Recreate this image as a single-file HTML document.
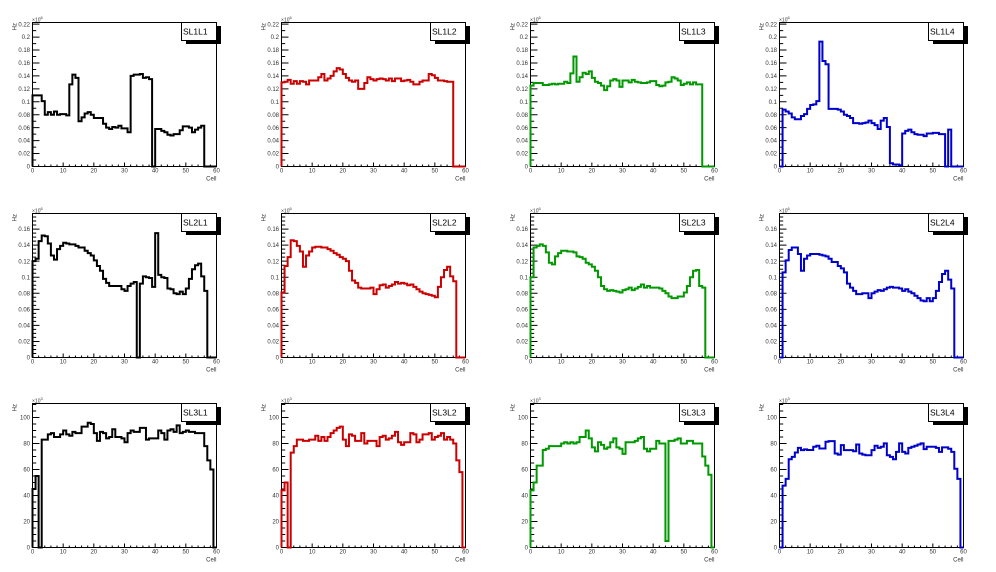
<!DOCTYPE html>
<html><head><meta charset="utf-8">
<style>
html,body{margin:0;padding:0;background:#fff;width:996px;height:572px;overflow:hidden}
svg{display:block}
.t{font-family:"Liberation Sans",sans-serif;font-size:6px;fill:#333}
.e{text-anchor:end}.m{text-anchor:middle}
.s{font-family:"Liberation Sans",sans-serif;font-size:5px;fill:#333}
.ti{font-family:"Liberation Sans",sans-serif;font-size:8.5px;fill:#000}
.h{fill:none;stroke-width:2;stroke-linejoin:miter}
.k{fill:none;stroke:#000;stroke-width:1}
</style></head><body>
<svg width="996" height="572" viewBox="0 0 996 572" xmlns="http://www.w3.org/2000/svg">
<defs>
<g id="fx">
<rect x="32.5" y="22.5" width="184" height="144" fill="none" stroke="#000" stroke-width="1"/>
<path class="k" vector-effect="non-scaling-stroke" transform="translate(32.5,166.5) scale(3.06667,1)" d="M10,0v-4M20,0v-4M30,0v-4M40,0v-4M50,0v-4M2,0v-2M4,0v-2M6,0v-2M8,0v-2M12,0v-2M14,0v-2M16,0v-2M18,0v-2M22,0v-2M24,0v-2M26,0v-2M28,0v-2M32,0v-2M34,0v-2M36,0v-2M38,0v-2M42,0v-2M44,0v-2M46,0v-2M48,0v-2M52,0v-2M54,0v-2M56,0v-2M58,0v-2"/>
</g>
<path id="ya" class="k" vector-effect="non-scaling-stroke" transform="translate(32.5,166.5) scale(1,-0.6469)" d="M0,20h7M0,40h7M0,60h7M0,80h7M0,100h7M0,120h7M0,140h7M0,160h7M0,180h7M0,200h7M0,220h7M0,10h3.7M0,30h3.7M0,50h3.7M0,70h3.7M0,90h3.7M0,110h3.7M0,130h3.7M0,150h3.7M0,170h3.7M0,190h3.7M0,210h3.7"/>
<path id="yb" class="k" vector-effect="non-scaling-stroke" transform="translate(32.5,166.5) scale(1,-0.8027)" d="M0,20h7M0,40h7M0,60h7M0,80h7M0,100h7M0,120h7M0,140h7M0,160h7M0,5h3.7M0,10h3.7M0,15h3.7M0,25h3.7M0,30h3.7M0,35h3.7M0,45h3.7M0,50h3.7M0,55h3.7M0,65h3.7M0,70h3.7M0,75h3.7M0,85h3.7M0,90h3.7M0,95h3.7M0,105h3.7M0,110h3.7M0,115h3.7M0,125h3.7M0,130h3.7M0,135h3.7M0,145h3.7M0,150h3.7M0,155h3.7M0,165h3.7M0,170h3.7M0,175h3.7"/>
<path id="yc" class="k" vector-effect="non-scaling-stroke" transform="translate(32.5,166.5) scale(1,-1.2996)" d="M0,20h7M0,40h7M0,60h7M0,80h7M0,100h7M0,5h3.7M0,10h3.7M0,15h3.7M0,25h3.7M0,30h3.7M0,35h3.7M0,45h3.7M0,50h3.7M0,55h3.7M0,65h3.7M0,70h3.7M0,75h3.7M0,85h3.7M0,90h3.7M0,95h3.7M0,105h3.7M0,110h3.7"/>
</defs>

<!-- ROW 1 -->
<g transform="translate(0,0)">
<use href="#fx"/><use href="#ya"/>
<text class="t e"><tspan x="30" y="168.6">0</tspan><tspan x="30" y="155.7">0.02</tspan><tspan x="30" y="142.7">0.04</tspan><tspan x="30" y="129.8">0.06</tspan><tspan x="30" y="116.9">0.08</tspan><tspan x="30" y="103.9">0.1</tspan><tspan x="30" y="91">0.12</tspan><tspan x="30" y="78">0.14</tspan><tspan x="30" y="65.1">0.16</tspan><tspan x="30" y="52.2">0.18</tspan><tspan x="30" y="39.2">0.2</tspan><tspan x="30" y="26.3">0.22</tspan></text>
<text class="t m" y="172.5"><tspan x="32.5">0</tspan><tspan x="63.2">10</tspan><tspan x="93.8">20</tspan><tspan x="124.5">30</tspan><tspan x="155.2">40</tspan><tspan x="185.8">50</tspan><tspan x="216.5">60</tspan></text>
<text class="t e" x="216.5" y="180.5">Cell</text>
<text class="t e" transform="translate(16.5,23) rotate(-90)">Hz</text>
<text class="s" x="32" y="21.3">×10<tspan dy="-2.2" font-size="4">6</tspan></text>
<path class="h" stroke="#000" vector-effect="non-scaling-stroke" transform="translate(32.5,166.5) scale(3.06667,-0.6469)" d="M0,0V110H3V101H4V80H5V84H6V80H7V85H8V80H9V81H11V79H12V127H13V142H14V137H15V70H16V76H17V82H18V84H19V80H20V75H23V66H24V60H25V58H26V61H27V60H28V63H29V59H31V53H32V140H33V142H35V143H36V137H37V138H38V135H39V0H40V58H42V55H43V53H44V49H45V48H46V50H48V56H49V62H51V60H52V53H53V57H54V60H55V63H56V0H60"/>
<rect x="186" y="26" width="35" height="18" fill="#000"/><rect x="181.5" y="22.5" width="35" height="18" fill="#fff" stroke="#000"/>
<text class="ti" x="183" y="34.5">SL1L1</text>
</g>

<g transform="translate(249,0)">
<use href="#fx"/><use href="#ya"/>
<text class="t e"><tspan x="30" y="168.6">0</tspan><tspan x="30" y="155.7">0.02</tspan><tspan x="30" y="142.7">0.04</tspan><tspan x="30" y="129.8">0.06</tspan><tspan x="30" y="116.9">0.08</tspan><tspan x="30" y="103.9">0.1</tspan><tspan x="30" y="91">0.12</tspan><tspan x="30" y="78">0.14</tspan><tspan x="30" y="65.1">0.16</tspan><tspan x="30" y="52.2">0.18</tspan><tspan x="30" y="39.2">0.2</tspan><tspan x="30" y="26.3">0.22</tspan></text>
<text class="t m" y="172.5"><tspan x="32.5">0</tspan><tspan x="63.2">10</tspan><tspan x="93.8">20</tspan><tspan x="124.5">30</tspan><tspan x="155.2">40</tspan><tspan x="185.8">50</tspan><tspan x="216.5">60</tspan></text>
<text class="t e" x="216.5" y="180.5">Cell</text>
<text class="t e" transform="translate(16.5,23) rotate(-90)">Hz</text>
<text class="s" x="32" y="21.3">×10<tspan dy="-2.2" font-size="4">6</tspan></text>
<path class="h" stroke="#cc0000" vector-effect="non-scaling-stroke" transform="translate(32.5,166.5) scale(3.06667,-0.6469)" d="M0,0V130H1V131H2V134H3V128H4V132H5V128H6V132H7V131H8V127H9V133H12V138H13V143H14V133H15V136H16V140H17V147H18V152H19V150H20V143H21V137H22V133H23V131H24V133H25V120H27V129H28V138H29V135H30V133H31V135H32V136H33V135H34V133H35V136H36V132H37V136H39V132H40V133H41V134H42V131H43V127H45V131H46V133H48V143H49V141H50V137H51V133H53V132H54V131H56V0H60"/>
<rect x="186" y="26" width="35" height="18" fill="#000"/><rect x="181.5" y="22.5" width="35" height="18" fill="#fff" stroke="#000"/>
<text class="ti" x="183" y="34.5">SL1L2</text>
</g>

<g transform="translate(498,0)">
<use href="#fx"/><use href="#ya"/>
<text class="t e"><tspan x="30" y="168.6">0</tspan><tspan x="30" y="155.7">0.02</tspan><tspan x="30" y="142.7">0.04</tspan><tspan x="30" y="129.8">0.06</tspan><tspan x="30" y="116.9">0.08</tspan><tspan x="30" y="103.9">0.1</tspan><tspan x="30" y="91">0.12</tspan><tspan x="30" y="78">0.14</tspan><tspan x="30" y="65.1">0.16</tspan><tspan x="30" y="52.2">0.18</tspan><tspan x="30" y="39.2">0.2</tspan><tspan x="30" y="26.3">0.22</tspan></text>
<text class="t m" y="172.5"><tspan x="32.5">0</tspan><tspan x="63.2">10</tspan><tspan x="93.8">20</tspan><tspan x="124.5">30</tspan><tspan x="155.2">40</tspan><tspan x="185.8">50</tspan><tspan x="216.5">60</tspan></text>
<text class="t e" x="216.5" y="180.5">Cell</text>
<text class="t e" transform="translate(16.5,23) rotate(-90)">Hz</text>
<text class="s" x="32" y="21.3">×10<tspan dy="-2.2" font-size="4">6</tspan></text>
<path class="h" stroke="#009900" vector-effect="non-scaling-stroke" transform="translate(32.5,166.5) scale(3.06667,-0.6469)" d="M0,0V125H1V129H4V126H6V127H7V128H8V127H9V128H11V131H12V129H13V144H14V170H15V131H16V138H17V145H18V143H19V147H20V137H21V131H22V129H23V125H24V118H25V124H26V133H27V135H28V133H29V123H30V133H32V130H33V134H34V131H35V130H36V129H38V130H39V132H41V126H42V124H43V125H44V130H45V131H46V138H47V136H48V133H49V126H50V128H51V130H52V127H53V130H54V127H56V0H60"/>
<rect x="186" y="26" width="35" height="18" fill="#000"/><rect x="181.5" y="22.5" width="35" height="18" fill="#fff" stroke="#000"/>
<text class="ti" x="183" y="34.5">SL1L3</text>
</g>

<g transform="translate(747,0)">
<use href="#fx"/><use href="#ya"/>
<text class="t e"><tspan x="30" y="168.6">0</tspan><tspan x="30" y="155.7">0.02</tspan><tspan x="30" y="142.7">0.04</tspan><tspan x="30" y="129.8">0.06</tspan><tspan x="30" y="116.9">0.08</tspan><tspan x="30" y="103.9">0.1</tspan><tspan x="30" y="91">0.12</tspan><tspan x="30" y="78">0.14</tspan><tspan x="30" y="65.1">0.16</tspan><tspan x="30" y="52.2">0.18</tspan><tspan x="30" y="39.2">0.2</tspan><tspan x="30" y="26.3">0.22</tspan></text>
<text class="t m" y="172.5"><tspan x="32.5">0</tspan><tspan x="63.2">10</tspan><tspan x="93.8">20</tspan><tspan x="124.5">30</tspan><tspan x="155.2">40</tspan><tspan x="185.8">50</tspan><tspan x="216.5">60</tspan></text>
<text class="t e" x="216.5" y="180.5">Cell</text>
<text class="t e" transform="translate(16.5,23) rotate(-90)">Hz</text>
<text class="s" x="32" y="21.3">×10<tspan dy="-2.2" font-size="4">6</tspan></text>
<path class="h" stroke="#0000cc" vector-effect="non-scaling-stroke" transform="translate(32.5,166.5) scale(3.06667,-0.6469)" d="M0,0H1V88H2V85H3V82H4V76H5V73H7V78H8V81H9V89H10V95H11V96H12V101H13V193H14V163H15V158H16V89H19V88H20V85H21V80H22V78H23V75H24V67H26V66H27V67H28V68H29V71H30V67H31V64H32V58H33V71H34V75H35V61H36V5H37V3H39V2H40V51H41V55H42V57H43V53H44V50H45V49H47V47H48V51H50V52H52V50H54V0H55V57H56V0H60"/>
<rect x="186" y="26" width="35" height="18" fill="#000"/><rect x="181.5" y="22.5" width="35" height="18" fill="#fff" stroke="#000"/>
<text class="ti" x="183" y="34.5">SL1L4</text>
</g>

<!-- ROW 2 -->
<g transform="translate(0,191)">
<use href="#fx"/><use href="#yb"/>
<text class="t e"><tspan x="30" y="168.6">0</tspan><tspan x="30" y="152.6">0.02</tspan><tspan x="30" y="136.5">0.04</tspan><tspan x="30" y="120.4">0.06</tspan><tspan x="30" y="104.4">0.08</tspan><tspan x="30" y="88.3">0.1</tspan><tspan x="30" y="72.3">0.12</tspan><tspan x="30" y="56.2">0.14</tspan><tspan x="30" y="40.2">0.16</tspan></text>
<text class="t m" y="172.5"><tspan x="32.5">0</tspan><tspan x="63.2">10</tspan><tspan x="93.8">20</tspan><tspan x="124.5">30</tspan><tspan x="155.2">40</tspan><tspan x="185.8">50</tspan><tspan x="216.5">60</tspan></text>
<text class="t e" x="216.5" y="180.5">Cell</text>
<text class="t e" transform="translate(16.5,23) rotate(-90)">Hz</text>
<text class="s" x="32" y="21.3">×10<tspan dy="-2.2" font-size="4">6</tspan></text>
<path class="h" stroke="#000" vector-effect="non-scaling-stroke" transform="translate(32.5,166.5) scale(3.06667,-0.8027)" d="M0,0V120H1V123H2V145H3V152H4V151H5V142H6V127H7V122H8V135H9V139H10V143H11V142H12V141H14V139H15V137H17V133H18V130H19V127H20V121H21V114H22V108H23V98H24V93H25V89H29V85H30V83H31V89H32V92H33V94H34V0H35V92H36V101H37V100H38V99H39V88H40V155H41V103H42V100H43V99H44V86H45V85H46V80H47V79H48V82H49V79H50V86H51V98H52V110H53V115H54V117H55V101H56V83H57V0H60"/>
<rect x="186" y="26" width="35" height="18" fill="#000"/><rect x="181.5" y="22.5" width="35" height="18" fill="#fff" stroke="#000"/>
<text class="ti" x="183" y="34.5">SL2L1</text>
</g>

<g transform="translate(249,191)">
<use href="#fx"/><use href="#yb"/>
<text class="t e"><tspan x="30" y="168.6">0</tspan><tspan x="30" y="152.6">0.02</tspan><tspan x="30" y="136.5">0.04</tspan><tspan x="30" y="120.4">0.06</tspan><tspan x="30" y="104.4">0.08</tspan><tspan x="30" y="88.3">0.1</tspan><tspan x="30" y="72.3">0.12</tspan><tspan x="30" y="56.2">0.14</tspan><tspan x="30" y="40.2">0.16</tspan></text>
<text class="t m" y="172.5"><tspan x="32.5">0</tspan><tspan x="63.2">10</tspan><tspan x="93.8">20</tspan><tspan x="124.5">30</tspan><tspan x="155.2">40</tspan><tspan x="185.8">50</tspan><tspan x="216.5">60</tspan></text>
<text class="t e" x="216.5" y="180.5">Cell</text>
<text class="t e" transform="translate(16.5,23) rotate(-90)">Hz</text>
<text class="s" x="32" y="21.3">×10<tspan dy="-2.2" font-size="4">6</tspan></text>
<path class="h" stroke="#cc0000" vector-effect="non-scaling-stroke" transform="translate(32.5,166.5) scale(3.06667,-0.8027)" d="M0,0V81H1V114H2V125H3V146H4V145H5V139H6V132H7V113H8V127H9V132H10V137H11V138H13V137H15V135H16V133H17V130H18V128H19V125H20V123H21V120H22V108H23V96H24V93H25V87H26V86H29V87H30V79H31V85H32V90H33V91H34V87H35V89H36V91H37V94H38V92H39V93H40V92H41V90H42V91H43V88H44V85H45V82H46V80H47V79H48V78H49V77H50V75H51V88H52V100H53V109H54V113H55V101H56V95H57V0H60"/>
<rect x="186" y="26" width="35" height="18" fill="#000"/><rect x="181.5" y="22.5" width="35" height="18" fill="#fff" stroke="#000"/>
<text class="ti" x="183" y="34.5">SL2L2</text>
</g>

<g transform="translate(498,191)">
<use href="#fx"/><use href="#yb"/>
<text class="t e"><tspan x="30" y="168.6">0</tspan><tspan x="30" y="152.6">0.02</tspan><tspan x="30" y="136.5">0.04</tspan><tspan x="30" y="120.4">0.06</tspan><tspan x="30" y="104.4">0.08</tspan><tspan x="30" y="88.3">0.1</tspan><tspan x="30" y="72.3">0.12</tspan><tspan x="30" y="56.2">0.14</tspan><tspan x="30" y="40.2">0.16</tspan></text>
<text class="t m" y="172.5"><tspan x="32.5">0</tspan><tspan x="63.2">10</tspan><tspan x="93.8">20</tspan><tspan x="124.5">30</tspan><tspan x="155.2">40</tspan><tspan x="185.8">50</tspan><tspan x="216.5">60</tspan></text>
<text class="t e" x="216.5" y="180.5">Cell</text>
<text class="t e" transform="translate(16.5,23) rotate(-90)">Hz</text>
<text class="s" x="32" y="21.3">×10<tspan dy="-2.2" font-size="4">6</tspan></text>
<path class="h" stroke="#009900" vector-effect="non-scaling-stroke" transform="translate(32.5,166.5) scale(3.06667,-0.8027)" d="M0,0V100H1V137H2V139H3V141H4V139H5V131H6V118H7V116H8V126H9V130H10V133H12V132H14V131H15V126H16V125H17V123H18V118H19V116H20V113H21V108H22V100H23V89H24V85H25V83H26V84H27V83H28V82H29V81H30V84H31V85H32V87H33V84H34V86H35V88H36V91H37V87H38V89H39V87H42V86H43V83H44V80H45V76H46V74H48V76H50V81H51V89H52V100H53V108H54V109H55V89H56V87H57V0H60"/>
<rect x="186" y="26" width="35" height="18" fill="#000"/><rect x="181.5" y="22.5" width="35" height="18" fill="#fff" stroke="#000"/>
<text class="ti" x="183" y="34.5">SL2L3</text>
</g>

<g transform="translate(747,191)">
<use href="#fx"/><use href="#yb"/>
<text class="t e"><tspan x="30" y="168.6">0</tspan><tspan x="30" y="152.6">0.02</tspan><tspan x="30" y="136.5">0.04</tspan><tspan x="30" y="120.4">0.06</tspan><tspan x="30" y="104.4">0.08</tspan><tspan x="30" y="88.3">0.1</tspan><tspan x="30" y="72.3">0.12</tspan><tspan x="30" y="56.2">0.14</tspan><tspan x="30" y="40.2">0.16</tspan></text>
<text class="t m" y="172.5"><tspan x="32.5">0</tspan><tspan x="63.2">10</tspan><tspan x="93.8">20</tspan><tspan x="124.5">30</tspan><tspan x="155.2">40</tspan><tspan x="185.8">50</tspan><tspan x="216.5">60</tspan></text>
<text class="t e" x="216.5" y="180.5">Cell</text>
<text class="t e" transform="translate(16.5,23) rotate(-90)">Hz</text>
<text class="s" x="32" y="21.3">×10<tspan dy="-2.2" font-size="4">6</tspan></text>
<path class="h" stroke="#0000cc" vector-effect="non-scaling-stroke" transform="translate(32.5,166.5) scale(3.06667,-0.8027)" d="M0,0H1V106H2V121H3V134H4V137H6V129H7V108H8V123H9V127H10V129H13V128H14V127H15V126H16V123H17V119H19V114H20V111H21V106H22V92H23V87H24V83H25V79H27V80H29V74H30V80H31V82H32V84H33V83H34V85H35V87H36V88H37V87H39V86H40V83H41V85H42V82H43V80H44V77H45V74H46V71H47V70H48V74H49V70H50V74H51V83H52V94H53V104H54V108H55V97H56V86H57V0H60"/>
<rect x="186" y="26" width="35" height="18" fill="#000"/><rect x="181.5" y="22.5" width="35" height="18" fill="#fff" stroke="#000"/>
<text class="ti" x="183" y="34.5">SL2L4</text>
</g>

<!-- ROW 3 -->
<g transform="translate(0,381)">
<use href="#fx"/><use href="#yc"/>
<text class="t e"><tspan x="30" y="168.6">0</tspan><tspan x="30" y="142.6">20</tspan><tspan x="30" y="116.6">40</tspan><tspan x="30" y="90.6">60</tspan><tspan x="30" y="64.6">80</tspan><tspan x="30" y="38.6">100</tspan></text>
<text class="t m" y="172.5"><tspan x="32.5">0</tspan><tspan x="63.2">10</tspan><tspan x="93.8">20</tspan><tspan x="124.5">30</tspan><tspan x="155.2">40</tspan><tspan x="185.8">50</tspan><tspan x="216.5">60</tspan></text>
<text class="t e" x="216.5" y="180.5">Cell</text>
<text class="t e" transform="translate(16.5,23) rotate(-90)">Hz</text>
<text class="s" x="32" y="21.3">×10<tspan dy="-2.2" font-size="4">3</tspan></text>
<path class="h" stroke="#000" vector-effect="non-scaling-stroke" transform="translate(32.5,166.5) scale(3.06667,-1.2996)" d="M0,0V45H1V55H2V0H3V83H5V87H6V88H7V85H9V87H10V90H11V87H12V86H13V89H14V88H16V93H18V96H19V95H20V88H21V82H22V89H23V88H24V84H25V85H26V91H27V85H29V84H30V81H31V88H32V90H33V89H35V92H37V83H38V84H41V90H42V88H43V83H44V90H45V91H46V89H47V94H48V88H49V89H50V90H51V89H53V88H56V78H57V67H58V60H59V0H60"/>
<rect x="186" y="26" width="35" height="18" fill="#000"/><rect x="181.5" y="22.5" width="35" height="18" fill="#fff" stroke="#000"/>
<text class="ti" x="183" y="34.5">SL3L1</text>
</g>

<g transform="translate(249,381)">
<use href="#fx"/><use href="#yc"/>
<text class="t e"><tspan x="30" y="168.6">0</tspan><tspan x="30" y="142.6">20</tspan><tspan x="30" y="116.6">40</tspan><tspan x="30" y="90.6">60</tspan><tspan x="30" y="64.6">80</tspan><tspan x="30" y="38.6">100</tspan></text>
<text class="t m" y="172.5"><tspan x="32.5">0</tspan><tspan x="63.2">10</tspan><tspan x="93.8">20</tspan><tspan x="124.5">30</tspan><tspan x="155.2">40</tspan><tspan x="185.8">50</tspan><tspan x="216.5">60</tspan></text>
<text class="t e" x="216.5" y="180.5">Cell</text>
<text class="t e" transform="translate(16.5,23) rotate(-90)">Hz</text>
<text class="s" x="32" y="21.3">×10<tspan dy="-2.2" font-size="4">3</tspan></text>
<path class="h" stroke="#cc0000" vector-effect="non-scaling-stroke" transform="translate(32.5,166.5) scale(3.06667,-1.2996)" d="M0,0V44H1V50H2V0H3V73H4V78H5V83H7V82H9V83H11V86H12V82H13V85H14V82H15V85H16V88H17V90H18V92H19V93H20V83H21V78H22V87H23V86H24V82H26V88H27V80H28V82H31V78H32V85H33V86H34V83H35V84H36V86H37V89H38V81H39V79H40V81H42V88H43V87H44V81H45V83H46V87H48V88H49V83H50V85H51V86H52V88H53V83H54V85H55V83H56V80H57V67H58V58H59V0H60"/>
<rect x="186" y="26" width="35" height="18" fill="#000"/><rect x="181.5" y="22.5" width="35" height="18" fill="#fff" stroke="#000"/>
<text class="ti" x="183" y="34.5">SL3L2</text>
</g>

<g transform="translate(498,381)">
<use href="#fx"/><use href="#yc"/>
<text class="t e"><tspan x="30" y="168.6">0</tspan><tspan x="30" y="142.6">20</tspan><tspan x="30" y="116.6">40</tspan><tspan x="30" y="90.6">60</tspan><tspan x="30" y="64.6">80</tspan><tspan x="30" y="38.6">100</tspan></text>
<text class="t m" y="172.5"><tspan x="32.5">0</tspan><tspan x="63.2">10</tspan><tspan x="93.8">20</tspan><tspan x="124.5">30</tspan><tspan x="155.2">40</tspan><tspan x="185.8">50</tspan><tspan x="216.5">60</tspan></text>
<text class="t e" x="216.5" y="180.5">Cell</text>
<text class="t e" transform="translate(16.5,23) rotate(-90)">Hz</text>
<text class="s" x="32" y="21.3">×10<tspan dy="-2.2" font-size="4">3</tspan></text>
<path class="h" stroke="#009900" vector-effect="non-scaling-stroke" transform="translate(32.5,166.5) scale(3.06667,-1.2996)" d="M0,0V44H1V50H2V63H4V75H5V76H6V78H10V80H11V81H12V80H13V81H14V80H15V81H16V85H18V90H19V84H20V77H21V74H22V81H23V79H24V76H25V77H26V81H27V84H28V77H29V76H30V72H31V81H34V82H35V84H36V85H37V76H38V74H39V76H41V82H42V80H44V5H45V82H47V83H48V84H49V80H51V82H53V80H56V70H57V63H58V56H59V0H60"/>
<rect x="186" y="26" width="35" height="18" fill="#000"/><rect x="181.5" y="22.5" width="35" height="18" fill="#fff" stroke="#000"/>
<text class="ti" x="183" y="34.5">SL3L3</text>
</g>

<g transform="translate(747,381)">
<use href="#fx"/><use href="#yc"/>
<text class="t e"><tspan x="30" y="168.6">0</tspan><tspan x="30" y="142.6">20</tspan><tspan x="30" y="116.6">40</tspan><tspan x="30" y="90.6">60</tspan><tspan x="30" y="64.6">80</tspan><tspan x="30" y="38.6">100</tspan></text>
<text class="t m" y="172.5"><tspan x="32.5">0</tspan><tspan x="63.2">10</tspan><tspan x="93.8">20</tspan><tspan x="124.5">30</tspan><tspan x="155.2">40</tspan><tspan x="185.8">50</tspan><tspan x="216.5">60</tspan></text>
<text class="t e" x="216.5" y="180.5">Cell</text>
<text class="t e" transform="translate(16.5,23) rotate(-90)">Hz</text>
<text class="s" x="32" y="21.3">×10<tspan dy="-2.2" font-size="4">3</tspan></text>
<path class="h" stroke="#0000cc" vector-effect="non-scaling-stroke" transform="translate(32.5,166.5) scale(3.06667,-1.2996)" d="M0,0H1V47.6H2V52.8H3V67.9H4V69.7H5V73.1H6V76.7H7V74.9H8V75.5H9V75H11V77.5H12V78.3H13V76.2H15V81.4H16V81.9H18V72.3H19V71.5H20V78.8H21V74.9H24V74.1H25V79.3H26V72.3H27V71.5H28V71H30V74.9H31V78.3H32V76.7H33V77.5H34V80.1H35V71H36V69.7H37V67.9H38V73.6H39V80.1H40V73.6H41V72.3H42V76.7H43V77.5H44V78.3H45V79.3H46V80.1H47V75.7H48V77.5H51V76.7H52V73.6H53V77H55V76H56V73.6H57V60.6H58V52.8H59V0H60"/>
<rect x="186" y="26" width="35" height="18" fill="#000"/><rect x="181.5" y="22.5" width="35" height="18" fill="#fff" stroke="#000"/>
<text class="ti" x="183" y="34.5">SL3L4</text>
</g>
</svg>
</body></html>
